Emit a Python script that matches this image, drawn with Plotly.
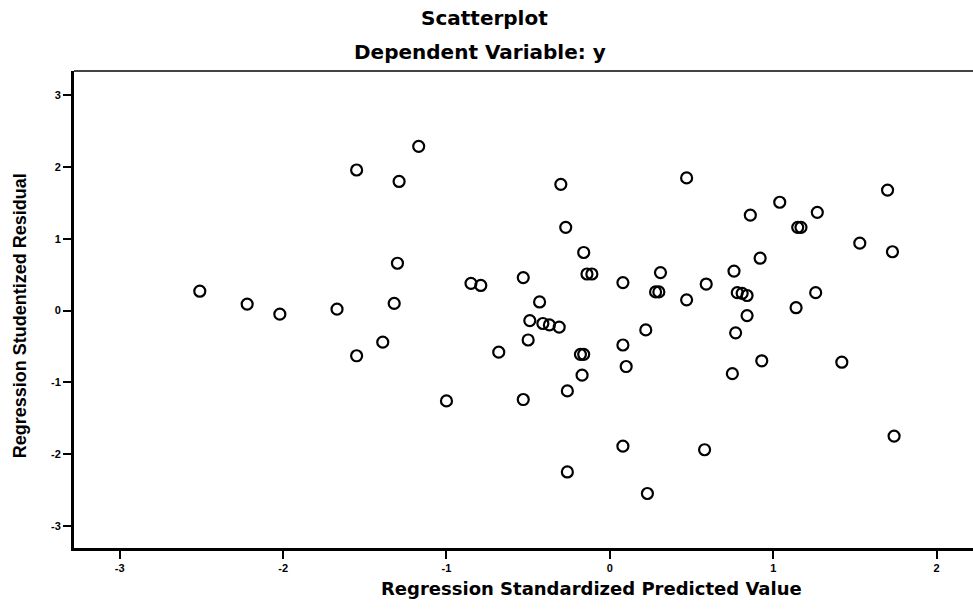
import plotly.graph_objects as go

# Regression Standardized Predicted Value (x) and Studentized Residual (y)
pred_values = [
    -1.17, -1.55, -1.29, -1.30, -2.51, -2.22, -2.02, -1.67, -1.32, -0.85,
    -0.79, -0.53, -0.43, -0.49, -0.41, -0.37, -0.31, -0.50, -0.68, -1.39,
    -1.55, -1.00, -0.53, -0.30, 0.47, 1.70, 1.04, 1.27, 0.86, 1.15,
    1.17, -0.27, 1.53, 1.73, -0.16, 0.92, -0.14, -0.11, 0.31, 0.76,
    0.08, 0.59, 0.28, 0.30, 0.47, 0.78, 0.81, 0.84, 1.26, 1.14,
    0.84, 0.22, 0.77, 0.08, -0.18, -0.16, 0.10, 0.93, 1.42, 0.75,
    -0.17, -0.26, 1.74, 0.08, 0.58, -0.26, 0.23,
]
resid_values = [
    2.29, 1.96, 1.80, 0.66, 0.27, 0.09, -0.05, 0.02, 0.10, 0.38,
    0.35, 0.46, 0.12, -0.14, -0.18, -0.20, -0.23, -0.41, -0.58, -0.44,
    -0.63, -1.26, -1.24, 1.76, 1.85, 1.68, 1.51, 1.37, 1.33, 1.16,
    1.16, 1.16, 0.94, 0.82, 0.81, 0.73, 0.51, 0.51, 0.53, 0.55,
    0.39, 0.37, 0.26, 0.26, 0.15, 0.25, 0.24, 0.21, 0.25, 0.04,
    -0.07, -0.27, -0.31, -0.48, -0.61, -0.61, -0.78, -0.70, -0.72, -0.88,
    -0.90, -1.12, -1.75, -1.89, -1.94, -2.25, -2.55,
]

x_ticks = [-3, -2, -1, 0, 1, 2]
y_ticks = [-3, -2, -1, 0, 1, 2, 3]

title_text = "Scatterplot"
subtitle_text = "Dependent Variable: y"
x_title = "Regression Standardized Predicted Value"
y_title = "Regression Studentized Residual"

fig = go.Figure()
fig.add_trace(go.Scatter(
    x=pred_values, y=resid_values, mode="markers",
    marker=dict(symbol="circle-open", size=11, color="black",
                line=dict(width=2.2, color="black")),
    showlegend=False, hoverinfo="x+y",
))

tick_font = dict(family="Liberation Sans, Arial, sans-serif", size=11,
                 color="black", weight="bold")

fig.update_layout(
    width=973, height=610,
    margin=dict(l=74, r=0, t=71, b=62),
    paper_bgcolor="white", plot_bgcolor="white",
    xaxis=dict(range=[-3.28, 2.223], tickvals=x_ticks,
               ticktext=[str(v) for v in x_ticks],
               showgrid=False, zeroline=False, showline=True,
               linecolor="black", linewidth=3, ticks="outside",
               ticklen=8, tickwidth=2, tickcolor="black",
               tickfont=tick_font),
    yaxis=dict(range=[-3.31, 3.34], tickvals=y_ticks,
               ticktext=[str(v) for v in y_ticks],
               showgrid=False, zeroline=False, showline=True,
               linecolor="black", linewidth=3, ticks="outside",
               ticklen=8, tickwidth=2, tickcolor="black",
               tickfont=tick_font),
    shapes=[dict(type="line", xref="paper", yref="paper",
                 x0=0, x1=1, y0=1, y1=1,
                 line=dict(color="#444444", width=2))],
)

title_font = dict(family="DejaVu Sans, sans-serif", size=20,
                  color="black", weight="bold")

fig.add_annotation(text=title_text, xref="paper", yref="paper",
                   x=0.457, y=1.111, xanchor="center", yanchor="middle",
                   showarrow=False, font=title_font)
fig.add_annotation(text=subtitle_text, xref="paper", yref="paper",
                   x=0.4516, y=1.040, xanchor="center", yanchor="middle",
                   showarrow=False, font=title_font)
fig.add_annotation(text=x_title, xref="paper", yref="paper",
                   x=0.576, y=-0.084, xanchor="center", yanchor="middle",
                   showarrow=False,
                   font=dict(family="DejaVu Sans, sans-serif", size=18,
                             color="black", weight="bold"))
fig.add_annotation(text=y_title, xref="paper", yref="paper",
                   x=-0.060, y=0.486, xanchor="center", yanchor="middle",
                   textangle=-90, showarrow=False,
                   font=dict(family="Liberation Sans, Arial, sans-serif",
                             size=18, color="black", weight="bold"))

fig.write_html("out.html",
               config={"displayModeBar": False},
               post_script="document.body.style.margin='0px';")
